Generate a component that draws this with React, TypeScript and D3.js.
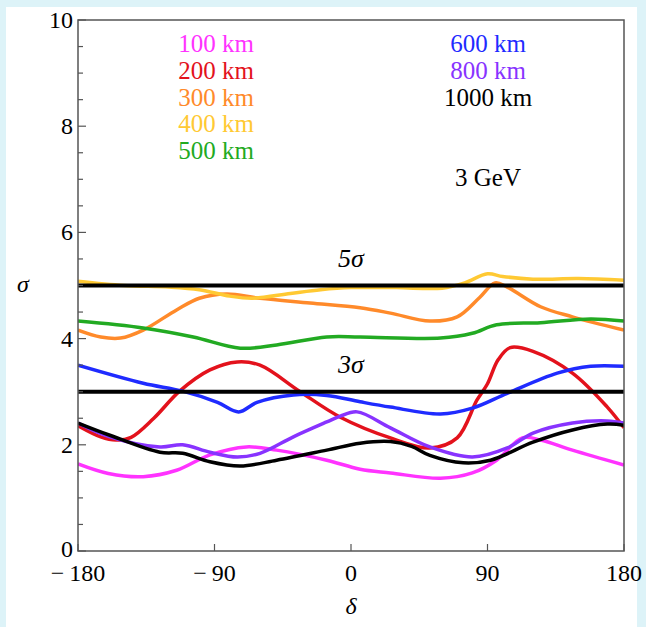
import React from "react";
import * as d3 from "d3";

const xTicks = [-180, -90, 0, 90, 180];
const yTicks = [0, 2, 4, 6, 8, 10];
const yMinor = d3.range(0, 10.01, 0.5);

const seriesNames = ["100 km", "200 km", "300 km", "400 km", "500 km", "600 km", "800 km", "1000 km"];
const seriesColors = ["#ff33ff", "#e3121c", "#ff8a2a", "#ffc933", "#22aa22", "#1f2bff", "#8833ff", "#000000"];

const s100: [number, number][] = [[-180,1.64],[-160,1.46],[-137,1.4],[-115,1.52],[-93,1.81],[-69,1.96],[-49,1.9],[-16,1.71],[6,1.54],[26,1.47],[59,1.37],[80,1.47],[96,1.71],[113,2.13],[125,2.09],[146,1.9],[180,1.62]];
const s200: [number, number][] = [[-180,2.36],[-165,2.15],[-155,2.09],[-145,2.14],[-130,2.5],[-113,3.01],[-93,3.41],[-75,3.56],[-60,3.5],[-34,3.01],[-7,2.52],[26,2.13],[52,1.94],[70,2.13],[83,2.84],[90,3.15],[97,3.6],[105,3.83],[120,3.76],[146,3.35],[169,2.71],[180,2.32]];
const s300: [number, number][] = [[-180,4.16],[-165,4.03],[-152,4.01],[-137,4.16],[-115,4.54],[-100,4.76],[-82,4.84],[-60,4.76],[-27,4.67],[6,4.58],[26,4.48],[52,4.33],[70,4.41],[85,4.78],[95,5.05],[103,4.97],[125,4.6],[146,4.41],[180,4.16]];
const s400: [number, number][] = [[-180,5.08],[-150,5.0],[-120,4.97],[-100,4.92],[-80,4.8],[-65,4.76],[-40,4.85],[-20,4.92],[0,4.96],[30,4.96],[60,4.95],[75,5.05],[90,5.22],[100,5.17],[120,5.12],[150,5.13],[180,5.1]];
const s500: [number, number][] = [[-180,4.33],[-137,4.2],[-104,4.03],[-73,3.82],[-49,3.88],[-16,4.03],[6,4.03],[59,4.01],[80,4.1],[96,4.26],[125,4.3],[158,4.37],[180,4.33]];
const s600: [number, number][] = [[-180,3.5],[-137,3.16],[-111,3.01],[-88,2.8],[-74,2.62],[-62,2.8],[-38,2.94],[-16,2.93],[6,2.81],[26,2.71],[59,2.58],[80,2.69],[103,2.97],[136,3.35],[158,3.48],[180,3.48]];
const s800: [number, number][] = [[-180,2.41],[-159,2.15],[-126,1.96],[-111,2.0],[-93,1.86],[-75,1.77],[-60,1.84],[-38,2.15],[-16,2.43],[-7,2.54],[4,2.62],[26,2.32],[52,1.96],[80,1.77],[103,1.94],[120,2.22],[146,2.41],[169,2.45],[180,2.41]];
const s1000: [number, number][] = [[-180,2.41],[-159,2.18],[-126,1.86],[-111,1.84],[-93,1.68],[-73,1.6],[-49,1.71],[-16,1.9],[6,2.03],[26,2.06],[40,1.97],[52,1.8],[74,1.66],[92,1.71],[120,2.05],[146,2.28],[169,2.39],[180,2.37]];
const seriesData = [s100, s200, s300, s400, s500, s600, s800, s1000];

const refLevels = [5, 3];
const refLabels = ["5", "3"];

const serif = "Liberation Serif, Times New Roman, DejaVu Serif, serif";

export default function App() {
  const W = 646, H = 627;
  const left = 78, right = 624, top = 20, bottom = 551;
  const x = d3.scaleLinear().domain([-180, 180]).range([left, right]);
  const y = d3.scaleLinear().domain([0, 10]).range([bottom, top]);
  const line = d3.line<[number, number]>().x(d => x(d[0])).y(d => y(d[1])).curve(d3.curveCatmullRom.alpha(0.5));
  const axisColor = "#555";
  const ts: React.CSSProperties = { fontFamily: serif };
  const tsi: React.CSSProperties = { fontFamily: serif, fontStyle: "italic" };

  return (
    <svg width={W} height={H} style={{ position: "absolute", left: 0, top: 0 }}>
      <rect x={0} y={0} width={W} height={H} fill="#ddf3f8" />
      <rect x={6} y={7} width={631} height={H - 7} fill="#ffffff" />
      <defs>
        <clipPath id="plotclip">
          <rect x={left} y={top} width={right - left} height={bottom - top} />
        </clipPath>
      </defs>
      <g clipPath="url(#plotclip)">
        {seriesData.map((s, i) => (
          <path key={i} d={line(s) || ""} fill="none" stroke={seriesColors[i]} strokeWidth={3.5} strokeLinejoin="round" />
        ))}
        {refLevels.map((v, i) => (
          <line key={i} x1={left} x2={right} y1={y(v)} y2={y(v)} stroke="#000" strokeWidth={4} />
        ))}
      </g>
      {refLevels.map((v, i) => (
        <text key={i} x={x(0)} y={y(v) - 19} textAnchor="middle" fontSize={26} style={tsi}>
          {refLabels[i]}σ
        </text>
      ))}
      <rect x={left} y={top} width={right - left} height={bottom - top} fill="none" stroke={axisColor} strokeWidth={1.5} />
      {yMinor.map((v, i) => {
        const major = Math.abs(v - Math.round(v / 2) * 2) < 1e-6;
        return <line key={i} x1={left} x2={left + (major ? 8 : 5)} y1={y(v)} y2={y(v)} stroke={axisColor} strokeWidth={1.2} />;
      })}
      {yTicks.map((v, i) => (
        <text key={i} x={left - 5} y={y(v) + (v === 0 ? 6 : 8)} textAnchor="end" fontSize={24} style={ts}>{v}</text>
      ))}
      {xTicks.map((v, i) => (
        <g key={i}>
          <line x1={x(v)} x2={x(v)} y1={bottom} y2={bottom - 7} stroke={axisColor} strokeWidth={1.2} />
          <text x={x(v)} y={bottom + 30} textAnchor="middle" fontSize={24} style={{ ...ts, whiteSpace: "pre" }}>{v < 0 ? "\u2212\u2009" + Math.abs(v) : String(v)}</text>
        </g>
      ))}
      <text x={x(0)} y={614} textAnchor="middle" fontSize={24} style={tsi}>δ</text>
      <text x={23} y={292} textAnchor="middle" fontSize={24} style={tsi}>σ</text>
      {seriesNames.map((n, i) => {
        const col = i < 5 ? 0 : 1;
        const row = i < 5 ? i : i - 5;
        return (
          <text key={i} x={col === 0 ? 216 : 488} y={52 + row * 26.8} textAnchor="middle" fontSize={25} fill={seriesColors[i]} style={ts}>{n}</text>
        );
      })}
      <text x={488} y={186} textAnchor="middle" fontSize={25} style={ts}>3 GeV</text>
    </svg>
  );
}
